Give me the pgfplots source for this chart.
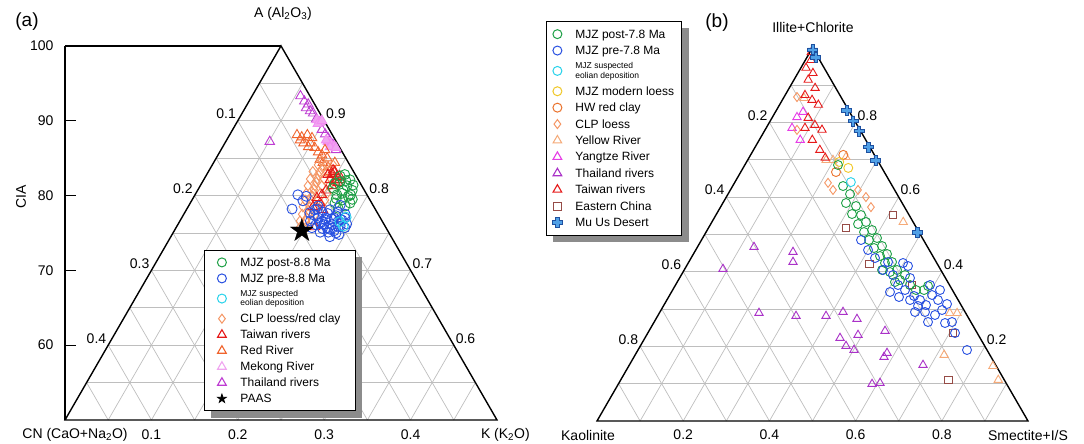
\documentclass[border=0pt]{standalone}
\usepackage{fontspec}
\setmainfont{Liberation Sans}
\usepackage{pgfplots}
\pgfplotsset{compat=1.18}
\usepackage{pgfplotstable}
\usetikzlibrary{shadows}

\definecolor{cGreen}{RGB}{30,160,70}
\definecolor{cBlue}{RGB}{40,80,225}
\definecolor{cCyan}{RGB}{40,210,235}
\definecolor{cYellow}{RGB}{240,200,40}
\definecolor{cHW}{RGB}{235,115,45}
\definecolor{cCLP}{RGB}{245,150,100}
\definecolor{cYR}{RGB}{245,170,120}
\definecolor{cYangtze}{RGB}{230,60,230}
\definecolor{cThai}{RGB}{170,50,200}
\definecolor{cTaiwan}{RGB}{230,25,25}
\definecolor{cEast}{RGB}{150,75,70}
\definecolor{cMuUs}{RGB}{80,160,230}
\definecolor{cMuUsD}{RGB}{30,80,160}
\definecolor{cRedR}{RGB}{240,100,45}
\definecolor{cMekong}{RGB}{240,165,240}
\definecolor{cThaiA}{RGB}{190,60,210}
\definecolor{cGrid}{RGB}{190,190,190}

\newcommand{\lsa}{\rule[-4pt]{0pt}{16pt}}
\newcommand{\lsb}{\rule[-4.2pt]{0pt}{16.4pt}}
\newcommand{\eol}{{\fontsize{8.5}{9.3}\selectfont\begin{tabular}[c]{@{}l@{}}\rule{0pt}{10pt}MJZ suspected\\eolian deposition\rule[-5pt]{0pt}{5pt}\end{tabular}}}

\pgfdeclareplotmark{fstar}{%
  \pgfpathmoveto{\pgfpointpolar{90}{\pgfplotmarksize}}%
  \pgfpathlineto{\pgfpointpolar{126}{0.382*\pgfplotmarksize}}%
  \pgfpathlineto{\pgfpointpolar{162}{\pgfplotmarksize}}%
  \pgfpathlineto{\pgfpointpolar{198}{0.382*\pgfplotmarksize}}%
  \pgfpathlineto{\pgfpointpolar{234}{\pgfplotmarksize}}%
  \pgfpathlineto{\pgfpointpolar{270}{0.382*\pgfplotmarksize}}%
  \pgfpathlineto{\pgfpointpolar{306}{\pgfplotmarksize}}%
  \pgfpathlineto{\pgfpointpolar{342}{0.382*\pgfplotmarksize}}%
  \pgfpathlineto{\pgfpointpolar{18}{\pgfplotmarksize}}%
  \pgfpathlineto{\pgfpointpolar{54}{0.382*\pgfplotmarksize}}%
  \pgfpathclose\pgfusepathqfillstroke}
\pgfdeclareplotmark{fcross}{%
  \pgfpathmoveto{\pgfpoint{-0.35*\pgfplotmarksize}{\pgfplotmarksize}}%
  \pgfpathlineto{\pgfpoint{0.35*\pgfplotmarksize}{\pgfplotmarksize}}%
  \pgfpathlineto{\pgfpoint{0.35*\pgfplotmarksize}{0.35*\pgfplotmarksize}}%
  \pgfpathlineto{\pgfpoint{\pgfplotmarksize}{0.35*\pgfplotmarksize}}%
  \pgfpathlineto{\pgfpoint{\pgfplotmarksize}{-0.35*\pgfplotmarksize}}%
  \pgfpathlineto{\pgfpoint{0.35*\pgfplotmarksize}{-0.35*\pgfplotmarksize}}%
  \pgfpathlineto{\pgfpoint{0.35*\pgfplotmarksize}{-\pgfplotmarksize}}%
  \pgfpathlineto{\pgfpoint{-0.35*\pgfplotmarksize}{-\pgfplotmarksize}}%
  \pgfpathlineto{\pgfpoint{-0.35*\pgfplotmarksize}{-0.35*\pgfplotmarksize}}%
  \pgfpathlineto{\pgfpoint{-\pgfplotmarksize}{-0.35*\pgfplotmarksize}}%
  \pgfpathlineto{\pgfpoint{-\pgfplotmarksize}{0.35*\pgfplotmarksize}}%
  \pgfpathlineto{\pgfpoint{-0.35*\pgfplotmarksize}{0.35*\pgfplotmarksize}}%
  \pgfpathclose\pgfusepathqfillstroke}

% ---------- panel (a): CN fraction and CIA ----------
\pgfplotstableread[row sep=\\]{cn cia\\
0.011 93.3\\ 0.010 92.6\\ 0.0075 92.2\\ 0.0125 91.7\\ 0.0098 91.3\\ 0.0078 91.0\\ 0.0083 90.2\\
0.0068 89.8\\ 0.0087 88.8\\ 0.0079 88.2\\ 0.0071 87.7\\ 0.006 86.8\\ 0.0059 86.1\\ 0.077 87.2\\}\aThai
\pgfplotstableread[row sep=\\]{cn cia\\
0.0079 90.1\\ 0.0057 89.8\\ 0.0094 89.6\\ 0.0027 90.0\\ 0.0098 87.2\\ 0.0077 86.9\\ 0.0055 86.6\\
0.0108 86.5\\ 0.0045 86.4\\ 0.0108 87.4\\}\aMekong
\pgfplotstableread[row sep=\\]{cn cia\\
0.041 88.1\\ 0.037 87.8\\ 0.029 88.1\\ 0.039 87.0\\ 0.031 87.0\\ 0.036 86.5\\ 0.029 86.4\\ 0.028 85.8\\
0.0255 85.4\\ 0.031 84.8\\ 0.0216 85.0\\ 0.0296 84.4\\ 0.0265 83.8\\ 0.0275 83.2\\ 0.0157 84.4\\
0.0256 87.7\\ 0.041 87.4\\ 0.0186 86.1\\}\aRedR
\pgfplotstableread[row sep=\\]{cn cia\\
0.0367 84.1\\ 0.0274 84.1\\ 0.0193 84.1\\ 0.0472 83.2\\ 0.0391 83.2\\ 0.031 83.2\\ 0.0229 83.2\\
0.0553 82.2\\ 0.0472 82.2\\ 0.0391 82.2\\ 0.031 82.2\\ 0.0624 81.3\\ 0.0543 81.3\\ 0.0462 81.3\\
0.0381 81.3\\ 0.0693 80.3\\ 0.0612 80.3\\ 0.0531 80.3\\ 0.045 80.3\\ 0.0751 79.4\\ 0.0682 79.4\\
0.0601 79.4\\ 0.052 79.4\\ 0.0822 78.5\\ 0.0741 78.5\\ 0.066 78.5\\ 0.059 78.5\\ 0.088 77.5\\
0.081 77.5\\ 0.0729 77.5\\ 0.095 76.6\\ 0.0881 76.6\\ 0.0811 76.6\\ 0.0997 75.7\\ 0.0927 75.7\\
0.043 82.7\\ 0.050 81.8\\ 0.058 80.8\\ 0.064 79.9\\ 0.071 78.9\\ 0.078 78.0\\ 0.085 77.0\\
0.033 83.7\\ 0.030 84.6\\}\aCLP
\pgfplotstableread[row sep=\\]{cn cia\\
0.0227 83.4\\ 0.0228 82.5\\ 0.0329 82.1\\ 0.0256 81.7\\ 0.0318 82.8\\ 0.0218 83.2\\ 0.060 79.7\\
0.0598 79.0\\ 0.0706 78.5\\ 0.061 78.1\\ 0.0816 75.8\\ 0.0442 80.7\\ 0.0522 80.1\\ 0.0213 82.1\\
0.0346 81.3\\ 0.026 82.9\\ 0.019 82.6\\ 0.028 81.9\\}\aTaiwan
\pgfplotstableread[row sep=\\]{cn cia\\
0.0122 82.8\\ 0.0097 82.1\\ 0.0227 81.8\\ 0.0172 81.3\\ 0.0141 80.7\\ 0.0245 80.7\\ 0.0348 80.1\\
0.0227 79.9\\ 0.0323 79.4\\ 0.0425 79.0\\ 0.0251 79.0\\ 0.0329 78.6\\ 0.0424 78.3\\ 0.0096 81.4\\
0.0347 81.0\\ 0.0186 82.6\\ 0.028 80.3\\ 0.019 80.1\\ 0.030 81.6\\ 0.015 82.0\\ 0.038 79.6\\
0.020 79.5\\}\aGreen
\pgfplotstableread[row sep=\\]{cn cia\\
0.0962 78.2\\ 0.080 80.1\\ 0.0713 79.9\\ 0.0781 79.3\\ 0.0781 77.7\\ 0.0703 78.1\\ 0.0529 78.1\\
0.0635 77.8\\ 0.045 77.8\\ 0.0382 77.5\\ 0.0721 77.0\\ 0.0628 77.0\\ 0.0536 77.0\\ 0.0457 76.7\\
0.0703 76.5\\ 0.0517 76.5\\ 0.0792 76.1\\ 0.0699 76.1\\ 0.0606 76.1\\ 0.0521 75.9\\ 0.0858 75.7\\
0.0684 75.7\\ 0.0476 75.7\\ 0.0792 75.1\\ 0.0699 75.1\\ 0.0613 75.0\\ 0.071 74.5\\ 0.038 78.7\\
0.0641 78.6\\ 0.057 76.9\\ 0.066 75.5\\ 0.043 76.2\\ 0.075 77.4\\ 0.050 77.3\\ 0.058 77.6\\
0.065 76.8\\ 0.073 76.3\\ 0.055 75.8\\ 0.062 75.3\\ 0.047 76.8\\ 0.041 77.0\\ 0.067 78.2\\
0.074 75.6\\ 0.083 76.6\\ 0.059 74.8\\}\aBlue
\pgfplotstableread[row sep=\\]{cn cia\\
0.0494 76.5\\ 0.0391 77.1\\ 0.0486 75.9\\}\aCyan
\pgfplotstableread[row sep=\\]{cn cia\\
0.0994 75.3\\}\aPAAS

% ---------- panel (b): smectite+I/S fraction s, illite+chlorite fraction i ----------
\pgfplotstableread[row sep=\\]{s i\\
0.0887 0.4072\\ 0.1312 0.4661\\ 0.2284 0.4527\\ 0.2418 0.4259\\ 0.2312 0.2893\\ 0.3211 0.2813\\
0.3907 0.2813\\ 0.4248 0.2920\\ 0.4666 0.2732\\ 0.5477 0.2411\\ 0.4904 0.2304\\ 0.4527 0.2223\\
0.4773 0.2009\\ 0.5012 0.1902\\ 0.5818 0.1822\\ 0.5802 0.1714\\ 0.6814 0.1500\\ 0.5886 0.0991\\
0.6057 0.1018\\}\bThai
\pgfplotstableread[row sep=\\]{s i\\
0.057 0.814\\ 0.060 0.785\\ 0.064 0.828\\ 0.095 0.753\\}\bYangtze
\pgfplotstableread[row sep=\\]{s i\\
0.198 0.699\\ 0.224 0.707\\ 0.182 0.699\\ 0.048 0.865\\ 0.444 0.533\\ 0.674 0.289\\ 0.691 0.289\\
0.717 0.177\\ 0.845 0.147\\ 0.876 0.110\\}\bYR
\pgfplotstableread[row sep=\\]{s i\\
0.030 0.868\\ 0.074 0.780\\ 0.217 0.638\\ 0.296 0.619\\ 0.324 0.600\\ 0.349 0.573\\ 0.238 0.619\\}\bCLP
\pgfplotstableread[row sep=\\]{s i\\
0.221 0.667\\ 0.215 0.713\\}\bHW
\pgfplotstableread[row sep=\\]{s i\\
0.215 0.694\\ 0.244 0.678\\}\bLoess
\pgfplotstableread[row sep=\\]{s i\\
0.411 0.552\\ 0.319 0.517\\ 0.421 0.421\\ 0.549 0.364\\ 0.708 0.236\\ 0.760 0.110\\}\bEast
\pgfplotstableread[row sep=\\]{s i\\
0.3701 0.4849\\ 0.3998 0.4581\\ 0.4267 0.4366\\ 0.4623 0.4259\\ 0.4614 0.4045\\ 0.4912 0.3911\\
0.4984 0.4233\\ 0.5140 0.4152\\ 0.5347 0.3831\\ 0.5163 0.3643\\ 0.5392 0.3509\\ 0.5681 0.3349\\
0.5874 0.3241\\ 0.6080 0.3107\\ 0.5642 0.3241\\ 0.6086 0.3375\\ 0.6292 0.3241\\ 0.6519 0.2973\\
0.6554 0.3134\\ 0.6422 0.2840\\ 0.6150 0.2920\\ 0.5908 0.3081\\ 0.6911 0.2652\\ 0.7128 0.2357\\
0.7634 0.1902\\ 0.5070 0.3456\\ 0.5346 0.3322\\ 0.5918 0.2920\\ 0.5905 0.3643\\ 0.6204 0.3509\\
0.6354 0.2652\\ 0.6762 0.2625\\}\bBlue
\pgfplotstableread[row sep=\\]{s i\\
0.2163 0.6858\\ 0.2561 0.6295\\ 0.2830 0.6081\\ 0.2857 0.5840\\ 0.3130 0.5759\\ 0.3144 0.5545\\
0.3366 0.5518\\ 0.3418 0.5277\\ 0.3576 0.5331\\ 0.3664 0.5063\\ 0.3823 0.5117\\ 0.3887 0.4849\\
0.4046 0.4902\\ 0.4110 0.4634\\ 0.4269 0.4688\\ 0.4356 0.4420\\ 0.4492 0.4474\\ 0.4566 0.4233\\
0.4716 0.4259\\ 0.4803 0.3991\\ 0.4939 0.4045\\ 0.5191 0.3911\\ 0.5142 0.3777\\ 0.5441 0.3643\\
0.5647 0.3509\\ 0.5833 0.3509\\ 0.5872 0.3616\\ 0.4591 0.4045\\ 0.5052 0.3724\\}\bGreen
\pgfplotstableread[row sep=\\]{s i\\
0.269 0.640\\}\bCyan
\pgfplotstableread[row sep=\\]{s i\\
0.003 0.988\\ 0.013 0.967\\ 0.012 0.946\\ 0.035 0.932\\ 0.033 0.914\\ 0.060 0.892\\ 0.046 0.873\\
0.069 0.860\\ 0.090 0.847\\ 0.084 0.812\\ 0.109 0.793\\ 0.132 0.780\\ 0.123 0.753\\ 0.154 0.726\\
0.177 0.705\\ 0.090 0.785\\}\bTaiwan
\pgfplotstableread[row sep=\\]{s i\\
0.003 0.995\\ 0.020 0.975\\ 0.163 0.833\\ 0.192 0.804\\ 0.219 0.777\\ 0.262 0.734\\ 0.297 0.699\\
0.490 0.506\\}\bMuUs

\tikzset{lab/.style={font=\fontsize{14}{16}\selectfont, inner sep=1.8pt}}

\begin{document}
\begin{tikzpicture}
\useasboundingbox (0pt,0pt) rectangle (1084pt,444pt);

% ===== grid and frame of panel (a): coordinates (K, A) =====
\begin{scope}[shift={(-151pt,-350.1pt)}, x={(864pt,0pt)}, y={(432pt,748.2pt)}]
  \foreach \a in {0.55,0.6,0.65,0.7,0.75,0.8,0.85,0.9,0.95}
    \draw[cGrid, line width=0.7pt] (0,\a) -- ({1-\a},\a);
  \foreach \v in {0.05,0.1,0.15,0.2,0.25,0.3,0.35,0.4,0.45}{
    \draw[cGrid, line width=0.7pt] (\v,0.5) -- (\v,{1-\v});
    \draw[cGrid, line width=0.7pt] ({0.5-\v},0.5) -- (0,{1-\v});
  }
  \draw[black, line width=1.4pt] (0,1) -- (0,0.5) -- (0.5,0.5) -- cycle;
  \foreach \a/\l in {0.9/0.1,0.8/0.2,0.7/0.3,0.6/0.4}
    \node[lab, anchor=south east] at (0,\a) {\l};
  \foreach \a in {0.9,0.8,0.7,0.6}
    \node[lab, anchor=south west] at ({1-\a},\a) {\a};
  \foreach \k in {0.1,0.2,0.3,0.4}
    \path (\k,0.5) node[lab, yshift=-15pt] {\k};
\end{scope}
\draw[black, line width=1.4pt] (65pt,398.1pt) -- (281pt,398.1pt);
\node[lab] at (75pt,9pt) {CN (CaO+Na\textsubscript{2}O)};
\node[lab, anchor=west] at (479pt,9pt) {K (K\textsubscript{2}O)};
\node[lab] at (283pt,430pt) {A (Al\textsubscript{2}O\textsubscript{3})};
\node[font=\fontsize{19}{21}\selectfont, inner sep=0pt] at (27pt,422pt) {(a)};
\node[lab, rotate=90] at (21pt,247pt) {CIA};

% ===== grid and frame of panel (b): coordinates (S, I) =====
\begin{scope}[shift={(597pt,23pt)}, x={(431pt,0pt)}, y={(215.5pt,373.26pt)}]
  \foreach \v in {0.1,0.2,0.3,0.4,0.5,0.6,0.7,0.8,0.9}{
    \draw[cGrid, line width=0.7pt] (0,\v) -- ({1-\v},\v);
    \draw[cGrid, line width=0.7pt] (\v,0) -- (\v,{1-\v});
    \draw[cGrid, line width=0.7pt] (\v,0) -- (0,\v);
  }
  \draw[black, line width=1.4pt] (0,0) -- (1,0) -- (0,1) -- cycle;
  \foreach \t/\l in {0.8/0.2,0.6/0.4,0.4/0.6,0.2/0.8}
    \node[lab, anchor=south east] at (0,\t) {\l};
  \foreach \t in {0.8,0.6,0.4,0.2}
    \node[lab, anchor=south west] at ({1-\t},\t) {\t};
  \foreach \s in {0.2,0.4,0.6,0.8}
    \path (\s,0) node[lab, yshift=-14pt] {\s};
\end{scope}
\node[lab] at (588pt,9pt) {Kaolinite};
\node[lab] at (1028pt,9pt) {Smectite+I/S};
\node[lab] at (813pt,416pt) {Illite+Chlorite};
\node[font=\fontsize{19}{21}\selectfont, inner sep=0pt] at (717pt,421pt) {(b)};

% ===== axis (a) =====
\begin{axis}[
  at={(65pt,24pt)}, anchor=south west, scale only axis,
  width=432pt, height=374.1pt,
  xmin=0.25, xmax=0.75, ymin=50, ymax=100,
  axis x line=none, axis y line*=left,
  ytick={60,70,80,90,100},
  tick align=inside, major tick length=11pt,
  y axis line style={line width=1.4pt},
  ytick style={line width=1.2pt, black},
  yticklabel style={font=\fontsize{14}{16}\selectfont, xshift=-8pt},
  /pgf/number format/assume math mode=true,
  clip=false,
  legend cell align=left,
  legend image code/.code={\draw[#1] plot coordinates {(0pt,0pt)};},
  legend style={at={(0.3218,0.4544)}, anchor=north west, draw=black, line width=0.8pt, fill=white,
    font=\fontsize{12}{14}\selectfont, inner xsep=13pt, inner ysep=4pt, column sep=12.5pt, row sep=0pt,
    nodes={inner xsep=1.5pt, inner ysep=0pt, text depth=},
    drop shadow={shadow xshift=7pt, shadow yshift=-7pt, fill=black!45, opacity=1}},
]
\addplot[forget plot, only marks, mark=triangle, mark size=5.5pt, cThaiA, line width=0.9pt]
  table[x expr=1-\thisrow{cia}/200-\thisrow{cn}, y=cia]{\aThai};
\addplot[forget plot, only marks, mark=triangle*, mark size=5.5pt, cMekong, mark options={fill=cMekong, draw=cMekong!85!magenta}, line width=0.9pt]
  table[x expr=1-\thisrow{cia}/200-\thisrow{cn}, y=cia]{\aMekong};
\addplot[forget plot, only marks, mark=triangle, mark size=5.5pt, cRedR, line width=0.9pt]
  table[x expr=1-\thisrow{cia}/200-\thisrow{cn}, y=cia]{\aRedR};
\addplot[forget plot, only marks, mark=diamond, mark size=5pt, cCLP, line width=0.9pt]
  table[x expr=1-\thisrow{cia}/200-\thisrow{cn}, y=cia]{\aCLP};
\addplot[forget plot, only marks, mark=triangle, mark size=5.5pt, cTaiwan, line width=0.9pt]
  table[x expr=1-\thisrow{cia}/200-\thisrow{cn}, y=cia]{\aTaiwan};
\addplot[forget plot, only marks, mark=o, mark size=5pt, cGreen, line width=0.9pt]
  table[x expr=1-\thisrow{cia}/200-\thisrow{cn}, y=cia]{\aGreen};
\addplot[forget plot, only marks, mark=o, mark size=5pt, cBlue, line width=0.9pt]
  table[x expr=1-\thisrow{cia}/200-\thisrow{cn}, y=cia]{\aBlue};
\addplot[forget plot, only marks, mark=o, mark size=5pt, cCyan, line width=0.9pt]
  table[x expr=1-\thisrow{cia}/200-\thisrow{cn}, y=cia]{\aCyan};
\addplot[forget plot, only marks, mark=fstar, mark size=12pt, black, mark options={fill=black}]
  table[x expr=1-\thisrow{cia}/200-\thisrow{cn}, y=cia]{\aPAAS};

\addlegendimage{only marks, mark=o, mark size=4.5pt, cGreen, line width=1pt}
\addlegendentry{\lsa MJZ post-8.8 Ma}
\addlegendimage{only marks, mark=o, mark size=4.5pt, cBlue, line width=1pt}
\addlegendentry{\lsa MJZ pre-8.8 Ma}
\addlegendimage{only marks, mark=o, mark size=4.5pt, cCyan, line width=1pt}
\addlegendentry{\eol}
\addlegendimage{only marks, mark=diamond, mark size=4.5pt, cCLP, line width=1pt}
\addlegendentry{\lsa CLP loess/red clay}
\addlegendimage{only marks, mark=triangle, mark size=5pt, cTaiwan, line width=1.1pt}
\addlegendentry{\lsa Taiwan rivers}
\addlegendimage{only marks, mark=triangle, mark size=5pt, cRedR, line width=1.1pt}
\addlegendentry{\lsa Red River}
\addlegendimage{only marks, mark=triangle, mark size=5pt, cMekong, line width=1.1pt}
\addlegendentry{\lsa Mekong River}
\addlegendimage{only marks, mark=triangle, mark size=5pt, cThaiA, line width=1.1pt}
\addlegendentry{\lsa Thailand rivers}
\addlegendimage{only marks, mark=fstar, mark size=4.5pt, black, mark options={fill=black}}
\addlegendentry{\lsa PAAS}
\end{axis}

% ===== axis (b) =====
\begin{axis}[
  at={(597pt,23pt)}, anchor=south west, scale only axis,
  width=431pt, height=373.26pt,
  xmin=0, xmax=1, ymin=0, ymax=0.866025,
  axis lines=none, clip=false,
  legend cell align=left,
  legend image code/.code={\draw[#1] plot coordinates {(0pt,0pt)};},
  legend style={at={(0.1972,1.0715)}, anchor=north east, draw=black, line width=0.8pt, fill=white,
    font=\fontsize{12}{14}\selectfont, inner xsep=6pt, inner ysep=4.5pt, column sep=11.5pt, row sep=0pt,
    nodes={inner xsep=1.5pt, inner ysep=0pt, text depth=},
    drop shadow={shadow xshift=7pt, shadow yshift=-7pt, fill=black!45, opacity=1}},
]
\addplot[forget plot, only marks, mark=triangle, mark size=4.8pt, cThai, line width=0.9pt]
  table[x expr=\thisrow{s}+\thisrow{i}/2, y expr=\thisrow{i}*0.866025]{\bThai};
\addplot[forget plot, only marks, mark=triangle, mark size=4.8pt, cYangtze, line width=0.9pt]
  table[x expr=\thisrow{s}+\thisrow{i}/2, y expr=\thisrow{i}*0.866025]{\bYangtze};
\addplot[forget plot, only marks, mark=triangle, mark size=4.8pt, cYR, line width=0.9pt]
  table[x expr=\thisrow{s}+\thisrow{i}/2, y expr=\thisrow{i}*0.866025]{\bYR};
\addplot[forget plot, only marks, mark=diamond, mark size=4.5pt, cCLP, line width=0.9pt]
  table[x expr=\thisrow{s}+\thisrow{i}/2, y expr=\thisrow{i}*0.866025]{\bCLP};
\addplot[forget plot, only marks, mark=o, mark size=4.5pt, cHW, line width=0.9pt]
  table[x expr=\thisrow{s}+\thisrow{i}/2, y expr=\thisrow{i}*0.866025]{\bHW};
\addplot[forget plot, only marks, mark=o, mark size=4.5pt, cYellow, line width=0.9pt]
  table[x expr=\thisrow{s}+\thisrow{i}/2, y expr=\thisrow{i}*0.866025]{\bLoess};
\addplot[forget plot, only marks, mark=square, mark size=3.8pt, cEast, line width=0.9pt]
  table[x expr=\thisrow{s}+\thisrow{i}/2, y expr=\thisrow{i}*0.866025]{\bEast};
\addplot[forget plot, only marks, mark=o, mark size=4.5pt, cGreen, line width=0.9pt]
  table[x expr=\thisrow{s}+\thisrow{i}/2, y expr=\thisrow{i}*0.866025]{\bGreen};
\addplot[forget plot, only marks, mark=o, mark size=4.5pt, cBlue, line width=0.9pt]
  table[x expr=\thisrow{s}+\thisrow{i}/2, y expr=\thisrow{i}*0.866025]{\bBlue};
\addplot[forget plot, only marks, mark=o, mark size=4.5pt, cCyan, line width=0.9pt]
  table[x expr=\thisrow{s}+\thisrow{i}/2, y expr=\thisrow{i}*0.866025]{\bCyan};
\addplot[forget plot, only marks, mark=triangle, mark size=4.8pt, cTaiwan, line width=0.9pt]
  table[x expr=\thisrow{s}+\thisrow{i}/2, y expr=\thisrow{i}*0.866025]{\bTaiwan};
\addplot[forget plot, only marks, mark=fcross, mark size=5pt, mark options={fill=cMuUs, draw=cMuUsD, line width=0.6pt}]
  table[x expr=\thisrow{s}+\thisrow{i}/2, y expr=\thisrow{i}*0.866025]{\bMuUs};

\addlegendimage{only marks, mark=o, mark size=4.5pt, cGreen, line width=1pt}
\addlegendentry{\lsb MJZ post-7.8 Ma}
\addlegendimage{only marks, mark=o, mark size=4.5pt, cBlue, line width=1pt}
\addlegendentry{\lsb MJZ pre-7.8 Ma}
\addlegendimage{only marks, mark=o, mark size=4.5pt, cCyan, line width=1pt}
\addlegendentry{\eol}
\addlegendimage{only marks, mark=o, mark size=4.5pt, cYellow, line width=1pt}
\addlegendentry{\lsb MJZ modern loess\hspace{13pt}}
\addlegendimage{only marks, mark=o, mark size=4.5pt, cHW, line width=1pt}
\addlegendentry{\lsb HW red clay}
\addlegendimage{only marks, mark=diamond, mark size=4.5pt, cCLP, line width=1pt}
\addlegendentry{\lsb CLP loess}
\addlegendimage{only marks, mark=triangle, mark size=5pt, cYR, line width=1pt}
\addlegendentry{\lsb Yellow River}
\addlegendimage{only marks, mark=triangle, mark size=5pt, cYangtze, line width=1.1pt}
\addlegendentry{\lsb Yangtze River}
\addlegendimage{only marks, mark=triangle, mark size=5pt, cThai, line width=1.1pt}
\addlegendentry{\lsb Thailand rivers}
\addlegendimage{only marks, mark=triangle, mark size=5pt, cTaiwan, line width=1.1pt}
\addlegendentry{\lsb Taiwan rivers}
\addlegendimage{only marks, mark=square, mark size=4pt, cEast, line width=1pt}
\addlegendentry{\lsb Eastern China}
\addlegendimage{only marks, mark=fcross, mark size=5pt, mark options={fill=cMuUs, draw=cMuUsD, line width=0.6pt}}
\addlegendentry{\lsb Mu Us Desert}
\end{axis}
\end{tikzpicture}
\end{document}
